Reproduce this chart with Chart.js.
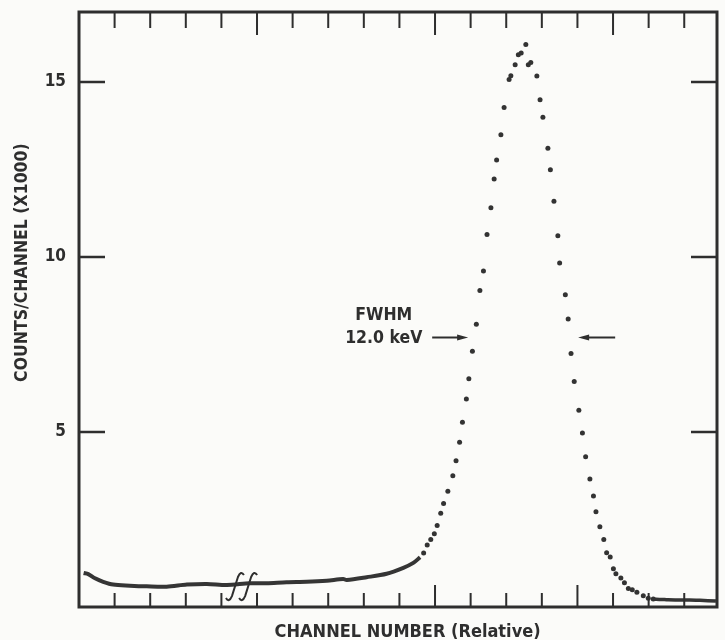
<!DOCTYPE html>
<html>
<head>
<meta charset="utf-8">
<script src="https://cdn.jsdelivr.net/npm/chart.js@4.4.0/dist/chart.umd.min.js"></script>
<style>
  html, body { margin: 0; padding: 0; background: #fbfbf9; }
  #wrap { width: 725px; height: 640px; }
</style>
</head>
<body>
<div id="wrap"><canvas id="spectrum" width="725" height="640"></canvas></div>
<script>
// counts/channel in thousands; channel is relative
const baseChannels = [1.3, 2.6, 4.5, 6.8, 9.6, 14.3, 19.0, 24.6, 30.3, 35.9, 41.5, 48.0, 52.7, 58.3, 63.9, 69.6, 74.2, 75.2, 80.8, 86.4, 91.1, 93.9, 95.8];
const baseCounts   = [0.97, 0.94, 0.82, 0.72, 0.64, 0.61, 0.59, 0.58, 0.64, 0.66, 0.63, 0.68, 0.68, 0.71, 0.72, 0.75, 0.80, 0.77, 0.85, 0.95, 1.12, 1.26, 1.42];

const peakChannels = [96.8, 97.8, 98.8, 99.8, 100.6, 101.6, 102.4, 103.6, 105.0, 105.9, 106.9, 107.7, 108.8, 109.5, 110.5, 111.6, 112.6, 113.6, 114.6, 115.7, 116.6, 117.3, 118.5, 119.4, 120.8, 121.3, 122.5, 123.4, 124.2, 125.5,
  126.2, 126.9, 128.6, 129.5, 130.3, 131.7, 132.4, 133.4, 134.5, 135.0, 136.6, 137.4, 138.2, 139.1, 140.4, 141.4, 142.3, 143.5, 144.5, 145.2, 146.3, 147.4, 148.2, 149.2, 150.1, 150.8, 152.2, 153.2, 154.3, 155.4, 156.7, 158.5, 159.9, 161.3];
const peakCounts   = [1.54, 1.77, 1.93, 2.09, 2.33, 2.68, 2.96, 3.31, 3.75, 4.18, 4.71, 5.28, 5.94, 6.52, 7.31, 8.08, 9.04, 9.60, 10.64, 11.41, 12.23, 12.77, 13.49, 14.27, 15.07, 15.18, 15.49, 15.78, 15.83, 16.07,
  15.49, 15.56, 15.17, 14.49, 13.99, 13.11, 12.49, 11.59, 10.61, 9.83, 8.92, 8.23, 7.24, 6.44, 5.62, 4.97, 4.29, 3.66, 3.17, 2.72, 2.29, 1.93, 1.55, 1.43, 1.09, 0.95, 0.83, 0.69, 0.53, 0.49, 0.42, 0.32, 0.25, 0.23];

const tailChannels = [161.3, 162.1, 165.0, 168.8, 171.5, 174.4, 178.9];
const tailCounts   = [0.23, 0.22, 0.21, 0.20, 0.20, 0.19, 0.17];

const yTickValues = [5, 10, 15];
const xTickChannels = [10, 20, 30, 40, 50, 60, 70, 80, 90, 100, 110, 120, 130, 140, 150, 160, 170];
const topLongTicks = [50, 100, 150];
const bottomLongTicks = [100, 140];

const fwhmLevel = 7.7;
const fwhmLabel = ['FWHM', '12.0 keV'];

const ink = '#2e2e2e';
const fontFamily = "'DejaVu Sans Condensed', 'Liberation Sans Narrow', sans-serif";

function pairs(xs, ys) {
    return xs.map((x, i) => ({ x: x, y: ys[i] }));
}

const paperPlugin = {
    id: 'paper',
    beforeDraw(chart) {
        const ctx = chart.ctx;
        ctx.save();
        ctx.fillStyle = '#fbfbf9';
        ctx.fillRect(0, 0, chart.width, chart.height);
        ctx.restore();
    }
};

const framePlugin = {
    id: 'frame',
    afterDraw(chart) {
        const ctx = chart.ctx;
        const area = chart.chartArea;
        const xs = chart.scales.x;
        const ys = chart.scales.y;
        ctx.save();
        ctx.strokeStyle = ink;
        ctx.fillStyle = ink;

        // frame
        ctx.lineWidth = 3;
        ctx.strokeRect(area.left, area.top, area.right - area.left, area.bottom - area.top);

        // inward ticks on x
        ctx.lineWidth = 2;
        xTickChannels.forEach(ch => {
            const px = xs.getPixelForValue(ch);
            const topLen = topLongTicks.includes(ch) ? 23 : 16;
            const botLen = bottomLongTicks.includes(ch) ? 22 : 14;
            ctx.beginPath();
            ctx.moveTo(px, area.top);
            ctx.lineTo(px, area.top + topLen);
            ctx.moveTo(px, area.bottom);
            ctx.lineTo(px, area.bottom - botLen);
            ctx.stroke();
        });

        // inward ticks on y, both sides
        ctx.lineWidth = 2.5;
        yTickValues.forEach(v => {
            const py = ys.getPixelForValue(v);
            ctx.beginPath();
            ctx.moveTo(area.left, py);
            ctx.lineTo(area.left + 26, py);
            ctx.moveTo(area.right, py);
            ctx.lineTo(area.right - 26, py);
            ctx.stroke();
        });

        // axis break marks on the baseline
        ctx.lineWidth = 2;
        [43.8, 47.5].forEach(ch => {
            const cx = xs.getPixelForValue(ch);
            const yb = ys.getPixelForValue(0.17);
            const yt = ys.getPixelForValue(1.0);
            ctx.beginPath();
            ctx.moveTo(cx - 9, yb - 3);
            ctx.quadraticCurveTo(cx - 6, yb + 2, cx - 3, yb - 5);
            ctx.lineTo(cx + 3, yt + 5);
            ctx.quadraticCurveTo(cx + 6, yt - 2, cx + 9, yt + 3);
            ctx.stroke();
        });

        // FWHM arrows
        const ay = ys.getPixelForValue(fwhmLevel);
        drawArrow(ctx, xs.getPixelForValue(99.2), xs.getPixelForValue(109.3), ay);
        drawArrow(ctx, xs.getPixelForValue(150.6), xs.getPixelForValue(140.2), ay);

        // FWHM text
        ctx.font = 'bold 17.5px ' + fontFamily;
        ctx.textAlign = 'center';
        ctx.textBaseline = 'middle';
        const tx = xs.getPixelForValue(85.6);
        ctx.fillText(fwhmLabel[0], tx, ys.getPixelForValue(8.33));
        ctx.fillText(fwhmLabel[1], tx, ys.getPixelForValue(7.68));

        // axis titles
        ctx.font = 'bold 18px ' + fontFamily;
        ctx.fillText('CHANNEL NUMBER (Relative)', xs.getPixelForValue(92.3), area.bottom + 25);
        ctx.font = 'bold 17.5px ' + fontFamily;
        ctx.translate(area.left - 57, ys.getPixelForValue(9.84));
        ctx.rotate(-Math.PI / 2);
        ctx.fillText('COUNTS/CHANNEL (X1000)', 0, 0);
        ctx.restore();
    }
};

function drawArrow(ctx, x0, x1, y) {
    const dir = x1 > x0 ? 1 : -1;
    ctx.lineWidth = 2;
    ctx.beginPath();
    ctx.moveTo(x0, y);
    ctx.lineTo(x1 - dir * 6, y);
    ctx.stroke();
    ctx.beginPath();
    ctx.moveTo(x1, y);
    ctx.lineTo(x1 - dir * 11, y - 3);
    ctx.lineTo(x1 - dir * 11, y + 3);
    ctx.closePath();
    ctx.fill();
}

new Chart(document.getElementById('spectrum'), {
    type: 'scatter',
    data: {
        datasets: [
            {
                label: 'baseline',
                data: pairs(baseChannels, baseCounts),
                showLine: true,
                borderColor: '#353535',
                borderWidth: 4,
                pointRadius: 0,
                tension: 0.3
            },
            {
                label: 'peak',
                data: pairs(peakChannels, peakCounts),
                showLine: false,
                backgroundColor: '#333333',
                borderWidth: 0,
                pointRadius: 2.5
            },
            {
                label: 'tail',
                data: pairs(tailChannels, tailCounts),
                showLine: true,
                borderColor: '#353535',
                borderWidth: 3.5,
                pointRadius: 0,
                tension: 0.3
            }
        ]
    },
    options: {
        responsive: false,
        animation: false,
        devicePixelRatio: 1,
        layout: { padding: { top: 12, right: 8, left: 0, bottom: 0 } },
        plugins: {
            legend: { display: false },
            tooltip: { enabled: false }
        },
        scales: {
            x: {
                type: 'linear',
                min: 0,
                max: 179.2,
                grid: { display: false, drawTicks: false },
                border: { display: false },
                ticks: { display: false },
                afterFit: function(scale) {
                    scale.height = 33;
                    scale.paddingLeft = 0;
                    scale.paddingRight = 0;
                }
            },
            y: {
                type: 'linear',
                min: 0,
                max: 17,
                grid: { display: false, drawTicks: false },
                border: { display: false },
                afterBuildTicks: function(scale) {
                    scale.ticks = yTickValues.map(v => ({ value: v }));
                },
                ticks: {
                    color: ink,
                    padding: 13,
                    font: { family: fontFamily, size: 17, weight: 'bold' }
                },
                afterFit: function(scale) {
                    scale.width = 79;
                    scale.paddingTop = 0;
                    scale.paddingBottom = 0;
                }
            }
        }
    },
    plugins: [paperPlugin, framePlugin]
});
</script>
</body>
</html>
